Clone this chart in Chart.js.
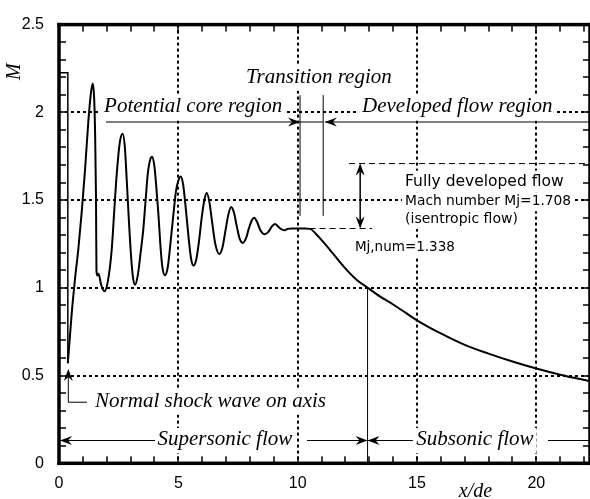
<!DOCTYPE html>
<html><head><meta charset="utf-8">
<script src="https://cdn.jsdelivr.net/npm/chart.js@4/dist/chart.umd.min.js"></script>
<style>
html,body{margin:0;padding:0;background:#fff;overflow:hidden;width:590px;height:499px}
#wrap{position:relative;width:594px;height:499px}
</style>
</head><body><div id="wrap"><canvas id="c" width="594" height="499"></canvas></div>
<script>
// ---- data ----
const xTicks = [0, 5, 10, 15, 20];
const yTicks = [0, 0.5, 1, 1.5, 2, 2.5];
const xMinorTicks = [1,2,3,4,5,6,7,8,9,10,11,12,13,14,15,16,17,18,19,20,21,22];
const yMinorTicks = [0.1,0.2,0.3,0.4,0.5,0.6,0.7,0.8,0.9,1.0,1.1,1.2,1.3,1.4,1.5,1.6,1.7,1.8,1.9,2.0,2.1,2.2,2.3,2.4];
const xRange = [0, 22.25];
const yRange = [0, 2.5];

// initial nozzle-exit step and normal shock drop
const stepX = [0, 0.37, 0.37];
const stepM = [2.225, 2.225, 0.57];

// Mach number along the jet axis
const curveX = [0.37,0.53,0.67,0.81,0.95,1.09,1.23,1.33,1.41,1.47,1.51,1.55,1.57,1.60,1.66,1.76,1.90,2.05,2.21,2.32,2.42,2.55,2.67,2.76,2.84,2.93,3.02,3.10,3.19,3.30,3.42,3.53,3.63,3.72,3.82,3.91,4.00,4.08,4.16,4.25,4.33,4.44,4.56,4.66,4.78,4.90,5.00,5.10,5.20,5.30,5.42,5.53,5.63,5.75,5.87,5.98,6.09,6.19,6.30,6.42,6.55,6.72,6.85,6.98,7.10,7.21,7.33,7.45,7.57,7.70,7.83,7.96,8.08,8.18,8.30,8.45,8.63,8.78,8.92,9.05,9.18,9.30,9.43,9.58,9.75,10.0,10.3,10.52,10.75,11.08,11.45,11.78,12.1,12.48,12.94,13.46,14.0,14.5,15.0,16.0,17.0,18.0,19.0,20.0,21.0,22.25];
const curveM = [0.57,0.85,1.05,1.22,1.43,1.67,1.95,2.10,2.164,2.09,1.90,1.52,1.10,1.07,1.08,1.02,0.98,1.04,1.22,1.45,1.65,1.83,1.878,1.80,1.61,1.38,1.18,1.06,1.018,1.07,1.20,1.33,1.50,1.65,1.73,1.747,1.69,1.57,1.43,1.24,1.12,1.071,1.12,1.24,1.40,1.55,1.61,1.634,1.59,1.47,1.30,1.17,1.127,1.16,1.27,1.40,1.50,1.54,1.49,1.37,1.25,1.193,1.23,1.33,1.42,1.461,1.43,1.35,1.28,1.256,1.28,1.34,1.385,1.40,1.375,1.325,1.305,1.32,1.35,1.364,1.35,1.335,1.328,1.336,1.338,1.338,1.338,1.336,1.31,1.26,1.20,1.145,1.095,1.045,1.0,0.95,0.905,0.86,0.815,0.74,0.675,0.625,0.58,0.54,0.505,0.468];

const MjIsentropic = 1.708;
const MjNum = 1.338;

// ---- chart ----
const pts = (xs, ys) => xs.map((x, i) => ({x: x, y: ys[i]}));
const serifI = "italic 21px 'Liberation Serif', 'Times New Roman', serif";
const sans = (s) => s + "px 'DejaVu Sans', sans-serif";

const frame = {
  id: 'frame',
  beforeDatasetsDraw(chart) {
    const {ctx, chartArea: a, scales} = chart;
    const xs = scales.x, ys = scales.y;
    ctx.save();
    ctx.strokeStyle = '#000';
    ctx.lineWidth = 2;
    ctx.setLineDash([3, 3]);
    xTicks.forEach(v => {
      if (v <= xRange[0] || v >= xRange[1]) return;
      const p = Math.round(xs.getPixelForValue(v));
      ctx.beginPath(); ctx.moveTo(p, a.top); ctx.lineTo(p, a.bottom); ctx.stroke();
    });
    yTicks.forEach(v => {
      if (v <= yRange[0] || v >= yRange[1]) return;
      const p = Math.round(ys.getPixelForValue(v));
      ctx.beginPath(); ctx.moveTo(a.left, p); ctx.lineTo(a.right, p); ctx.stroke();
    });
    ctx.restore();
  },
  afterDatasetsDraw(chart) {
    const {ctx, chartArea: a, scales} = chart;
    const xs = scales.x, ys = scales.y;
    const X = v => xs.getPixelForValue(v), Y = v => ys.getPixelForValue(v);
    ctx.save();
    ctx.fillStyle = '#000'; ctx.strokeStyle = '#000';

    const line = (x1, y1, x2, y2, dash, w) => {
      ctx.save();
      ctx.strokeStyle = '#000';
      ctx.lineWidth = w || 1;
      ctx.setLineDash(dash || []);
      ctx.beginPath(); ctx.moveTo(x1, y1); ctx.lineTo(x2, y2); ctx.stroke();
      ctx.restore();
    };
    const head = (tx, ty, dx, dy) => {
      const L = 12, W = 4.5, N = 8;
      const px = -dy, py = dx;
      ctx.fillStyle = '#000';
      ctx.beginPath();
      ctx.moveTo(tx, ty);
      ctx.lineTo(tx - dx * L + px * W, ty - dy * L + py * W);
      ctx.lineTo(tx - dx * N, ty - dy * N);
      ctx.lineTo(tx - dx * L - px * W, ty - dy * L - py * W);
      ctx.closePath(); ctx.fill();
    };
    const text = (s, x, y, font, align) => {
      ctx.font = font;
      const w = ctx.measureText(s).width;
      const m = ctx.measureText('Hg');
      const asc = m.actualBoundingBoxAscent, des = m.actualBoundingBoxDescent;
      let left = align === 'left' ? x : x - w / 2;
      ctx.fillStyle = '#fff';
      ctx.fillRect(left - 3, y - (asc + des) / 2 - 3, w + 6, asc + des + 6);
      ctx.fillStyle = '#000';
      ctx.textBaseline = 'alphabetic';
      ctx.textAlign = 'left';
      ctx.fillText(s, left, y + (asc - des) / 2);
    };

    // region labels at top
    const yReg = 1.945;
    text('Transition region', X(10.89), Y(2.194), serifI, 'center');
    text('Potential core region', X(5.62), Y(2.025), serifI, 'center');
    text('Developed flow region', X(16.69), Y(2.025), serifI, 'center');
    line(X(1.97), Y(yReg), X(10.1), Y(yReg));
    head(X(10.1), Y(yReg), 1, 0);
    line(X(10.1), Y(2.098), X(10.1), Y(1.41));
    line(X(11.07), Y(2.098), X(11.07), Y(1.41));
    line(X(10.1), Y(yReg), X(11.07), Y(yReg));
    line(X(11.14), Y(yReg), a.right + 2, Y(yReg));
    head(X(11.14), Y(yReg), -1, 0);

    // fully developed flow
    line(X(12.15), Y(MjIsentropic), X(22.15), Y(MjIsentropic), [6, 4], 1);
    line(X(10.5), Y(MjNum), X(13.11), Y(MjNum), [6, 4], 1);
    line(X(12.62), Y(MjIsentropic) + 2, X(12.62), Y(MjNum) - 2, [], 1.5);
    head(X(12.62), Y(MjIsentropic), 0, -1);
    head(X(12.62), Y(MjNum), 0, 1);
    text('Fully developed flow', X(14.5), Y(1.608), sans(15.5), 'left');
    text('Mach number Mj=' + MjIsentropic.toFixed(3), X(14.5), Y(1.49), sans(13.8), 'left');
    text('(isentropic flow)', X(14.5), Y(1.389), sans(14), 'left');
    text('Mj,num=' + MjNum.toFixed(3), X(12.40), Y(1.231), sans(13.5), 'left');

    // sonic point
    const xSonic = 12.93;
    line(X(xSonic), Y(1.0), X(xSonic), a.bottom);

    // bottom labels
    const yB = 0.13;
    text('Normal shock wave on axis', X(1.51), Y(0.348), serifI, 'left');
    line(X(0.39), Y(0.348), X(1.17), Y(0.348));
    line(X(0.39), Y(0.348), X(0.39), Y(0.537) + 4);
    head(X(0.39), Y(0.537), 0, -1);

    text('Supersonic flow', X(6.95), Y(yB), serifI, 'center');
    line(a.left + 1, Y(yB), X(4.02), Y(yB));
    head(a.left + 1, Y(yB), -1, 0);
    line(X(10.39), Y(yB), X(xSonic), Y(yB));
    head(X(xSonic), Y(yB), 1, 0);

    text('Subsonic flow', X(17.43), Y(yB), serifI, 'center');
    line(X(xSonic), Y(yB), X(14.83), Y(yB));
    head(X(xSonic), Y(yB), -1, 0);
    line(X(20.49), Y(yB), a.right + 2, Y(yB));
    ctx.restore();
  },
  afterDraw(chart) {
    const {ctx, chartArea: a, scales} = chart;
    const xs = scales.x, ys = scales.y;
    ctx.save();
    ctx.fillStyle = '#000';
    // minor ticks pointing inward on all four sides (filled rects)
    const T = 7, W = 1.5;
    xMinorTicks.forEach(v => {
      const p = Math.round(xs.getPixelForValue(v));
      ctx.fillRect(p - W / 2, a.bottom - T, W, T);
      ctx.fillRect(p - W / 2, a.top, W, T);
    });
    yMinorTicks.forEach(v => {
      const p = Math.round(ys.getPixelForValue(v));
      ctx.fillRect(a.left, p - W / 2, T, W);
      ctx.fillRect(a.right - T, p - W / 2, T, W);
    });
    // thick frame (filled bands)
    const B = 3.5;
    ctx.fillRect(a.left - B / 2, a.top - B / 2, a.right - a.left + B, B);
    ctx.fillRect(a.left - B / 2, a.bottom - B / 2, a.right - a.left + B, B);
    ctx.fillRect(a.left - B / 2, a.top - B / 2, B, a.bottom - a.top + B);
    ctx.fillRect(a.right - B / 2, a.top - B / 2, B, a.bottom - a.top + B);

    // axis titles
    ctx.font = "italic 20px 'Liberation Serif', 'Times New Roman', serif";
    ctx.textAlign = 'center'; ctx.textBaseline = 'middle';
    ctx.save();
    ctx.translate(a.left - 44, a.top + 47);
    ctx.rotate(-Math.PI / 2);
    ctx.fillText('M', 0, 0);
    ctx.restore();
    ctx.textBaseline = 'alphabetic';
    ctx.fillText('x/de', xs.getPixelForValue(17.45), a.bottom + 34);
    ctx.restore();
  }
};

new Chart(document.getElementById('c'), {
  type: 'line',
  data: {
    datasets: [
      {data: pts(stepX, stepM), borderColor: '#000', borderWidth: 1.5, pointRadius: 0, tension: 0},
      {data: pts(curveX, curveM), borderColor: '#000', borderWidth: 2, pointRadius: 0,
       cubicInterpolationMode: 'monotone', tension: 0.4}
    ]
  },
  options: {
    responsive: false, animation: false, devicePixelRatio: 1,
    layout: {padding: {top: 19.7, right: 4, left: 0, bottom: 0}},
    plugins: {legend: {display: false}, tooltip: {enabled: false}},
    scales: {
      x: {
        type: 'linear', min: xRange[0], max: xRange[1],
        grid: {display: false, drawTicks: false}, border: {display: false},
        afterBuildTicks: s => { s.ticks = xTicks.map(v => ({value: v})); },
        afterFit: s => { s.height = 499 - 463.3; },
        ticks: {color: '#000', padding: 11, maxRotation: 0, font: {family: "'Liberation Sans', Arial, sans-serif", size: 16}}
      },
      y: {
        type: 'linear', min: yRange[0], max: yRange[1],
        grid: {display: false, drawTicks: false}, border: {display: false},
        afterBuildTicks: s => { s.ticks = yTicks.map(v => ({value: v})); },
        afterFit: s => { s.width = 59; },
        ticks: {color: '#000', padding: 15, font: {family: "'Liberation Sans', Arial, sans-serif", size: 16},
                callback: v => String(v)}
      }
    }
  },
  plugins: [frame]
});
</script>
</body></html>
